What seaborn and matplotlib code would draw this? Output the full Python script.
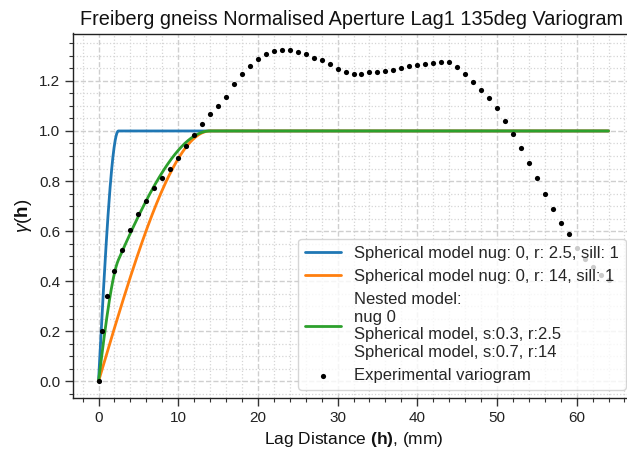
import numpy as np
import pandas as pd
import matplotlib
matplotlib.use("Agg")
import matplotlib.pyplot as plt
import seaborn as sns

# ---- data ----
lag = [0, 0.44, 1.1, 2, 3, 4, 5, 6, 7, 8, 9, 10, 11, 12, 13, 14, 15, 16, 17, 18,
       19, 20, 21, 22, 23, 24, 25, 26, 27, 28, 29, 30, 31, 32, 33, 34, 35, 36, 37,
       38, 39, 40, 41, 42, 43, 44, 45, 46, 47, 48, 49, 50, 51, 52, 53, 54, 55, 56,
       57, 58, 59, 60, 61, 62, 63, 64]
gamma = [0.0, 0.203, 0.343, 0.44, 0.525, 0.603, 0.667, 0.721, 0.771, 0.811, 0.847,
         0.893, 0.94, 0.983, 1.028, 1.068, 1.10, 1.137, 1.187, 1.228, 1.26, 1.287,
         1.307, 1.32, 1.323, 1.323, 1.315, 1.307, 1.293, 1.284, 1.266, 1.247, 1.237,
         1.229, 1.229, 1.235, 1.237, 1.239, 1.245, 1.253, 1.26, 1.263, 1.267, 1.272,
         1.277, 1.275, 1.255, 1.229, 1.197, 1.164, 1.133, 1.091, 1.041, 0.988, 0.931,
         0.871, 0.813, 0.749, 0.688, 0.633, 0.587, 0.533, 0.487, 0.455, 0.423, 0.403]

# model parameters (from legend)
nugget = 0
model1_range, model1_sill = 2.5, 1
model2_range, model2_sill = 14, 1
nested_sills = [0.3, 0.7]
nested_ranges = [2.5, 14]

labels = [
    "Spherical model nug: 0, r: 2.5, sill: 1",
    "Spherical model nug: 0, r: 14, sill: 1",
    "Nested model:\nnug 0\nSpherical model, s:0.3, r:2.5\nSpherical model, s:0.7, r:14",
    "Experimental variogram",
]
colors = ["#1f77b4", "#ff7f0e", "#2ca02c"]


def spherical(h, r, s):
    h = np.asarray(h, dtype=float)
    t = np.clip(h / r, 0, 1)
    return nugget + s * (1.5 * t - 0.5 * t ** 3)


h = np.linspace(0, max(lag), 1281)
m1 = spherical(h, model1_range, model1_sill)
m2 = spherical(h, model2_range, model2_sill)
m3 = sum(spherical(h, r, s) for r, s in zip(nested_ranges, nested_sills))

models = pd.concat([
    pd.DataFrame({"h": h, "g": m1, "model": labels[0]}),
    pd.DataFrame({"h": h, "g": m2, "model": labels[1]}),
    pd.DataFrame({"h": h, "g": m3, "model": labels[2]}),
])
exp_df = pd.DataFrame({"h": lag, "g": gamma})

# ---- style ----
sns.set_theme(style="ticks")
plt.rcParams["font.family"] = ["Liberation Sans", "DejaVu Sans"]
plt.rcParams["mathtext.fontset"] = "custom"
plt.rcParams["mathtext.rm"] = "Liberation Sans"
plt.rcParams["mathtext.it"] = "Liberation Sans:italic"
plt.rcParams["mathtext.bf"] = "Liberation Sans:bold"
plt.rcParams["axes.unicode_minus"] = False

fig = plt.figure(figsize=(6.27, 4.5), dpi=100)
ax = fig.add_axes([73 / 627, 1 - 398 / 450, (634 - 73) / 627, (398 - 33.5) / 450])

sns.lineplot(data=models, x="h", y="g", hue="model", palette=colors,
             estimator=None, sort=False, linewidth=2.0, ax=ax)
sns.scatterplot(data=exp_df, x="h", y="g", color="black", s=14, linewidth=0,
                label=labels[3], ax=ax, zorder=5)

ax.minorticks_on()
ax.grid(which="major", linestyle="--", color="#cfcfcf", linewidth=1.0)
ax.grid(which="minor", linestyle=":", color="#d5d5d5", linewidth=0.9)
ax.set_axisbelow(True)
ax.tick_params(axis="both", which="major", labelsize=11, length=5.5, width=1,
               color="#333333", labelcolor="#222222")
ax.tick_params(axis="both", which="minor", length=3, width=0.8, color="#333333")
for sp in ax.spines.values():
    sp.set_color("#222222")
    sp.set_linewidth(1.0)

ax.set_title("Freiberg gneiss Normalised Aperture Lag1 135deg Variogram",
             fontsize=14.3, color="#111111", x=0.497)
ax.set_xlabel(r"Lag Distance $\mathbf{(h)}$, (mm)", fontsize=12.5, color="#111111")
ax.set_ylabel(r"$\gamma$($\mathbf{h}$)", fontsize=13.5, color="#111111")

handles, labs = ax.get_legend_handles_labels()
leg = ax.legend(handles, labs, loc="lower right", fontsize=12, handlelength=2.15,
                frameon=True, framealpha=0.8, edgecolor="#cccccc", fancybox=True,
                title=None)

fig.savefig("out.png", dpi=100)
